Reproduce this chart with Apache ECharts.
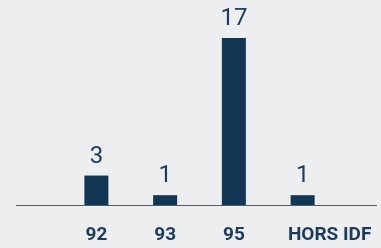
<!DOCTYPE html>
<html>
<head>
<meta charset="utf-8">
<script src="https://cdn.jsdelivr.net/npm/echarts@6/dist/echarts.min.js"></script>
<style>
  html, body { margin: 0; padding: 0; background: #edeef0; }
  #main { width: 381px; height: 248px; }
</style>
</head>
<body>
<div id="main"></div>
<script>
var categories = ['92', '93', '95', 'HORS IDF'];
var values = [3, 1, 17, 1];

var myChart = echarts.init(document.getElementById('main'));

var option = {
  backgroundColor: '#edeef0',
  animation: false,
  grid: { left: 62, right: 44, top: 38, bottom: 43 },
  // long baseline, wider than the grid
  graphic: [{
    type: 'line',
    shape: { x1: 16, y1: 205.5, x2: 377, y2: 205.5 },
    style: { stroke: '#555a60', lineWidth: 1 }
  }],
  xAxis: {
    type: 'category',
    data: categories,
    axisLine: { show: false },
    axisTick: { show: false },
    axisLabel: {
      interval: 0,
      margin: 21,
      color: '#1d3b5a',
      fontFamily: 'Roboto',
      fontWeight: 'bold',
      fontSize: 19,
      formatter: function (v) {
        return v === 'HORS IDF' ? '{s|' + v + '}' : v;
      },
      rich: {
        s: { color: '#1d3b5a', fontFamily: 'Roboto', fontWeight: 'bold', fontSize: 19, padding: [0, 0, 0, 54] }
      }
    }
  },
  yAxis: {
    type: 'value',
    min: 0,
    max: 17,
    show: false,
    splitLine: { show: false }
  },
  series: [{
    type: 'bar',
    data: values,
    barWidth: 24,
    itemStyle: { color: '#133654' },
    label: {
      show: true,
      position: 'top',
      distance: 7,
      color: '#1d3b5a',
      fontFamily: 'Roboto',
      fontWeight: 'normal',
      fontSize: 24
    }
  }]
};

myChart.setOption(option, true);
</script>
</body>
</html>
